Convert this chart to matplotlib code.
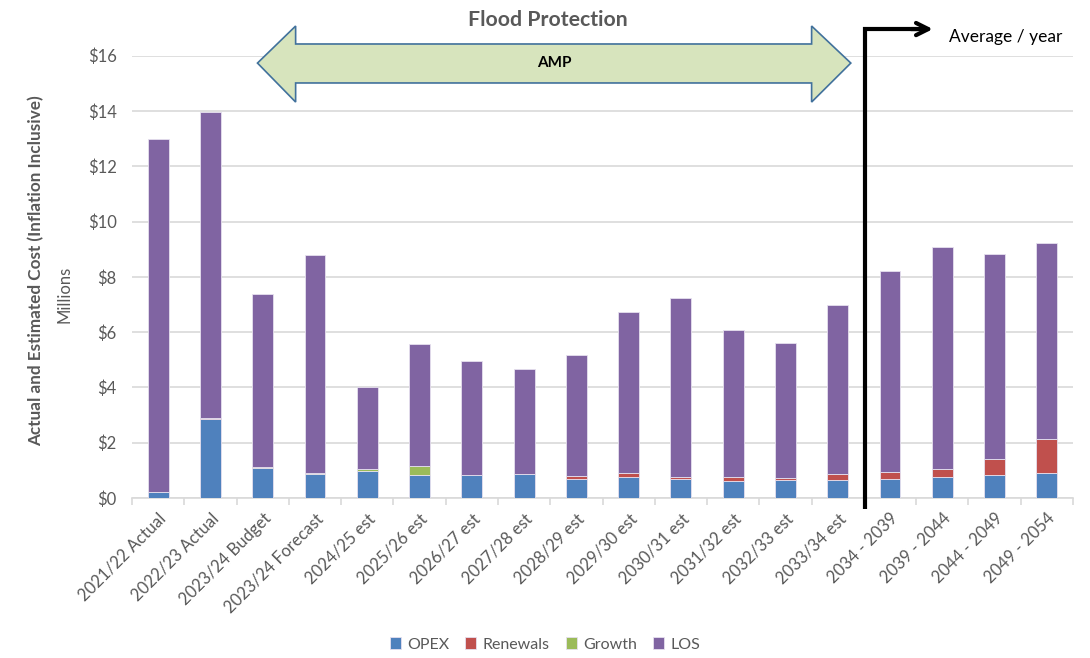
import matplotlib
matplotlib.use("Agg")
import matplotlib.pyplot as plt
from matplotlib.patches import Polygon
import numpy as np

plt.rcParams['font.family'] = ['Lato', 'DejaVu Sans']

# Cost breakdown per period ($ millions)
periods = ['2021/22 Actual', '2022/23 Actual', '2023/24 Budget', '2023/24 Forecast',
           '2024/25 est', '2025/26 est', '2026/27 est', '2027/28 est', '2028/29 est',
           '2029/30 est', '2030/31 est', '2031/32 est', '2032/33 est', '2033/34 est',
           '2034 - 2039', '2039 - 2044', '2044 - 2049', '2049 - 2054']
opex = [0.22, 2.85, 1.07, 0.86, 0.99, 0.83, 0.82, 0.87, 0.68,
        0.77, 0.68, 0.63, 0.64, 0.66, 0.69, 0.75, 0.83, 0.92]
renewals = [0.00, 0.03, 0.00, 0.00, 0.00, 0.00, 0.00, 0.00, 0.10,
            0.12, 0.08, 0.12, 0.10, 0.22, 0.24, 0.29, 0.57, 1.22]
growth = [0.00, 0.00, 0.04, 0.04, 0.06, 0.33, 0.00, 0.00, 0.00,
          0.00, 0.00, 0.00, 0.00, 0.00, 0.00, 0.00, 0.00, 0.00]
los = [12.76, 11.07, 6.27, 7.90, 2.97, 4.42, 4.15, 3.78, 4.39,
       5.82, 6.46, 5.34, 4.88, 6.10, 7.27, 8.03, 7.44, 7.09]

series = [('OPEX', opex, '#4F81BD'), ('Renewals', renewals, '#C0504D'),
          ('Growth', growth, '#9BBB59'), ('LOS', los, '#8064A2')]

grey = '#595959'
fig = plt.figure(figsize=(10.9, 6.58), dpi=100)
ax = fig.add_axes([132 / 1090, 1 - 498 / 658, 941 / 1090, 442.4 / 658])

x = np.arange(len(periods))
bottom = np.zeros(len(periods))
for name, vals, col in series:
    ax.bar(x, vals, 0.40, bottom=bottom, color=col, edgecolor='#E6E0EE',
           linewidth=0.6, label=name, zorder=3)
    bottom += np.array(vals)

ax.set_xlim(-0.5, len(periods) - 0.5)
ax.set_ylim(0, 16)
ax.set_yticks(range(0, 17, 2))
ax.set_yticklabels([f'${v}' for v in range(0, 17, 2)])
ax.yaxis.grid(True, color='#D9D9D9', linewidth=1.2, zorder=0)
ax.tick_params(axis='y', length=0, labelsize=12, labelcolor=grey, pad=11)

ax.set_xticks(x)
ax.set_xticklabels(periods, rotation=45, ha='right', rotation_mode='anchor')
ax.set_xticks(np.arange(-0.5, len(periods)), minor=True)
ax.tick_params(axis='x', which='major', length=0, labelsize=12, labelcolor=grey, pad=9)
ax.tick_params(axis='x', which='minor', length=5, color='#D9D9D9', width=1.2)

for s in ['top', 'right', 'left']:
    ax.spines[s].set_visible(False)
ax.spines['bottom'].set_color('#D9D9D9')
ax.spines['bottom'].set_linewidth(1.2)

# axis titles
fig.text(0.033, 0.588, 'Actual and Estimated Cost (Inflation Inclusive)', rotation=90,
         ha='center', va='center', fontsize=12.3, fontweight='bold', color=grey)
fig.text(0.059, 0.552, 'Millions', rotation=90, ha='center', va='center',
         fontsize=12, color=grey)

# AMP double-headed arrow
xl, xlb, xrb, xr = 1.90, 2.63, 12.50, 13.25
yc, ys_top, ys_bot, yh_top, yh_bot = 15.73, 16.42, 15.01, 17.07, 14.32
amp = Polygon([(xl, yc), (xlb, yh_top), (xlb, ys_top), (xrb, ys_top), (xrb, yh_top),
               (xr, yc), (xrb, yh_bot), (xrb, ys_bot), (xlb, ys_bot), (xlb, yh_bot)],
              closed=True, facecolor='#D7E4BD', edgecolor='#41719C', linewidth=1.2,
              clip_on=False, zorder=5)
ax.add_patch(amp)
ax.text((xl + xr) / 2, yc, 'AMP', ha='center', va='center', fontsize=11,
        fontweight='bold', color='black', zorder=6, clip_on=False)
fig.text(0.503, 0.969, 'Flood Protection', ha='center', va='center', fontsize=15.3,
         fontweight='bold', color=grey)

# divider between annual and 5-year averages
ax.plot([13.53, 13.53, 14.6], [-0.4, 16.96, 16.96], color='black', linewidth=3,
        clip_on=False, zorder=6, solid_capstyle='butt', solid_joinstyle='miter')
ax.annotate('', xy=(14.82, 16.96), xytext=(14.4, 16.96), annotation_clip=False,
            arrowprops=dict(arrowstyle='->', color='black', lw=3,
                            mutation_scale=22, shrinkA=0, shrinkB=0))
ax.text(15.12, 16.67, 'Average / year', ha='left', va='center', fontsize=12.5,
        color='black', clip_on=False)

fig.legend(loc='lower center', bbox_to_anchor=(0.5, -0.012), ncol=4, frameon=False,
           fontsize=11.5, handlelength=0.7, handleheight=0.7, handletextpad=0.4,
           columnspacing=1.0, labelcolor=grey)

fig.savefig('out.png', dpi=100)
